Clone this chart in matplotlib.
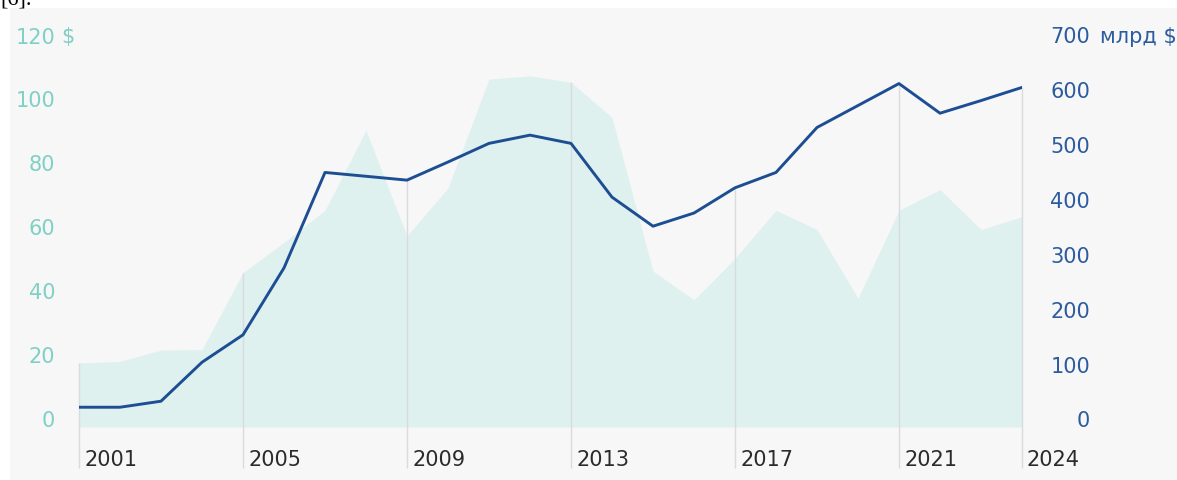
import matplotlib.pyplot as plt
from matplotlib.patches import Rectangle
from matplotlib.transforms import blended_transform_factory

# данные
years = list(range(2001, 2025))
price = [18.3, 18.8, 22.3, 22.5, 46.5, 56, 66, 91, 58, 73, 107, 108,
         106, 95, 47, 38, 51, 66, 60, 38.5, 66, 72.5, 60, 64]
volume = [26, 26, 37, 108, 158, 280, 454, 447, 440, 473, 507, 522,
          507, 409, 356, 380, 426, 454, 536, 576, 616, 562, 585, 609]
label_years = [2001, 2005, 2009, 2013, 2017, 2021, 2024]
left_ticks = [0, 20, 40, 60, 80, 100, 120]
right_ticks = [0, 100, 200, 300, 400, 500, 600, 700]

W, H = 1177, 480
fig = plt.figure(figsize=(W / 100, H / 100), dpi=100)
fig.patch.set_facecolor('white')
fig.patches.append(Rectangle((10 / W, 0), 1 - 10 / W, 1 - 8 / H,
                             transform=fig.transFigure, facecolor='#f7f7f7',
                             edgecolor='none', zorder=-10))
fig.text(0.0, 1 - 4 / H, '[6].', family='Liberation Serif', fontsize=16,
         va='baseline', ha='left', color='black')

bottom_px, top_px = 427, 37.5
ax = fig.add_axes([79 / W, 1 - bottom_px / H, (1022 - 79) / W, (bottom_px - top_px) / H])
ax.set_facecolor('none')
ymin = -1.72
ax.set_xlim(2001, 2024)
ax.set_ylim(ymin, 120)
ax2 = ax.twinx()
ax2.set_ylim(ymin * 700 / 120, 700)
ax2.set_facecolor('none')

for a in (ax, ax2):
    for s in a.spines.values():
        s.set_visible(False)
    a.set_xticks([])
    a.set_yticks([])

# заливка (цена)
ax.fill_between(years, price, ymin, color='#dff1ee', linewidth=0, zorder=1)

# вертикальные линии
for y in label_years:
    i = years.index(y)
    top = max(price[i], volume[i] * 120 / 700)
    ax.vlines(y, -14.5, top, color='#d9dcdc', linewidth=1, zorder=2, clip_on=False)

# линия (объём)
ax2.plot(years, volume, color='#1d4e93', linewidth=2.1, zorder=3)

# подписи
fs = 15
tr_left = blended_transform_factory(fig.transFigure, ax.transData)
for t in left_ticks:
    ax.text(55 / W, t, str(t), transform=tr_left, ha='right', va='center',
            fontsize=fs, color='#7fd0c5')
ax.text(61 / W, 120, '$', transform=tr_left, ha='left', va='center',
        fontsize=fs, color='#7fd0c5')

tr_right = blended_transform_factory(fig.transFigure, ax2.transData)
for t in right_ticks:
    ax2.text(1090 / W, t, str(t), transform=tr_right, ha='right', va='center',
             fontsize=fs, color='#2c5b9e')
ax2.text(1100 / W, 700, 'млрд $', transform=tr_right, ha='left', va='center',
         fontsize=fs, color='#2c5b9e')

tr_x = blended_transform_factory(ax.transData, fig.transFigure)
for y in label_years:
    ax.text(y + 5 / 41, 1 - 460 / H, str(y), transform=tr_x, ha='left', va='center',
            fontsize=fs, color='#2b2b2b')

plt.savefig('out.png', dpi=100)
